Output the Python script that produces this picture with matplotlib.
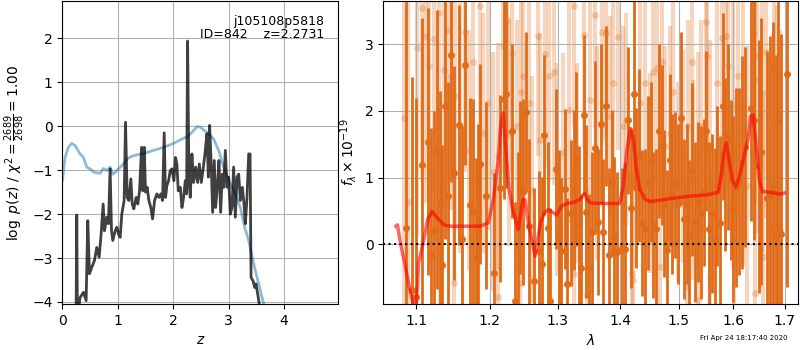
import numpy as np
import matplotlib
matplotlib.use("Agg")
import matplotlib.pyplot as plt
from matplotlib.ticker import FixedLocator, FixedFormatter, NullLocator

# ---------------- left panel data: log p(z) and prior ----------------
pz_z = [0.247, 0.259, 0.271, 0.319, 0.380, 0.428, 0.458, 0.488, 0.530, 0.578, 0.620, 0.663, 0.699,
        0.735, 0.759, 0.801, 0.831, 0.861, 0.886, 0.910, 0.952, 0.982, 1.012, 1.042, 1.072, 1.114,
        1.139, 1.169, 1.199, 1.235, 1.259, 1.289, 1.331, 1.361, 1.392, 1.428, 1.452, 1.476, 1.500,
        1.530, 1.560, 1.596, 1.627, 1.663, 1.705, 1.741, 1.777, 1.807, 1.837, 1.861, 1.886, 1.916,
        1.946, 1.976, 2.012, 2.042, 2.066, 2.090, 2.127, 2.157, 2.187, 2.217, 2.241, 2.259, 2.283,
        2.307, 2.337, 2.367, 2.404, 2.440, 2.470, 2.506, 2.536, 2.572, 2.608, 2.633, 2.657, 2.687,
        2.711, 2.741, 2.765, 2.795, 2.825, 2.855, 2.886, 2.910, 2.940, 2.970, 3.000, 3.030, 3.060,
        3.090, 3.120, 3.151, 3.181, 3.211, 3.247, 3.277, 3.301, 3.331, 3.361, 3.386, 3.404, 3.440,
        3.470, 3.494, 3.524, 3.548, 3.584]
pz_logp = [-4.35, -2.02, -4.35, -3.90, -3.78, -3.97, -2.15, -3.36, -3.21, -3.06, -2.76, -2.98, -2.45,
           -1.77, -2.38, -2.07, -2.22, -0.97, -2.38, -2.60, -2.38, -2.30, -2.45, -2.53, -2.00, -1.69,
           0.09, -1.62, -1.69, -1.20, -1.77, -1.88, -1.62, -1.77, -1.47, -0.48, -1.47, -0.48, -1.50,
           -1.39, -1.69, -1.85, -2.11, -1.69, -1.54, -1.62, -1.54, -1.69, -0.15, -1.62, -1.35, -1.24,
           -1.01, -0.97, -1.24, -0.71, -0.86, -1.47, -1.39, -1.85, -1.62, -1.24, -1.54, 1.94, -1.24,
           -1.62, -0.63, -1.28, -0.93, -1.28, -0.86, -1.28, -1.01, -0.63, -0.17, -1.16, 0.02, -0.93,
           -1.96, -0.78, -1.85, -1.39, -0.78, -1.96, -1.09, -1.39, -0.55, -1.39, -1.16, -2.00, -1.85,
           -0.93, -2.07, -1.16, -1.09, -1.69, -1.39, -1.77, -2.22, -1.62, -0.63, -0.63, -3.44, -3.52,
           -3.67, -3.59, -3.82, -4.01, -4.43]

prior_z = [0.0, 0.048, 0.108, 0.169, 0.229, 0.319, 0.380, 0.440, 0.500, 0.572, 0.681, 0.741, 0.801,
           0.861, 0.904, 0.952, 1.012, 1.102, 1.193, 1.283, 1.464, 1.645, 1.825, 2.006, 2.127, 2.247,
           2.337, 2.428, 2.488, 2.608, 2.729, 2.819, 2.910, 3.030, 3.120, 3.211, 3.289, 3.361, 3.452,
           3.542, 3.633, 3.690]
prior_logp = [-1.24, -0.71, -0.48, -0.39, -0.44, -0.63, -0.71, -0.93, -0.97, -1.05, -1.07, -0.96, -1.01,
              -0.93, -1.09, -1.05, -0.97, -0.86, -0.72, -0.67, -0.62, -0.55, -0.48, -0.39, -0.31, -0.24,
              -0.14, -0.01, -0.02, -0.14, -0.29, -0.55, -0.93, -1.31, -1.54, -1.85, -2.30, -2.60, -3.14,
              -3.59, -4.05, -4.43]

# ---------------- right panel data: spectrum ----------------
dark_wave = [1.087, 1.094, 1.100, 1.108, 1.115, 1.119, 1.123, 1.128, 1.131, 1.134, 1.138, 1.142, 1.146,
             1.150, 1.157, 1.161, 1.166, 1.172, 1.176, 1.180, 1.184, 1.186, 1.195, 1.206, 1.215, 1.220,
             1.223, 1.232, 1.237, 1.241, 1.244, 1.248, 1.252, 1.257, 1.264, 1.272, 1.277, 1.280, 1.285,
             1.289, 1.298, 1.302, 1.306, 1.311, 1.315, 1.321, 1.325, 1.329, 1.333, 1.337, 1.341, 1.345,
             1.349, 1.354, 1.359, 1.363, 1.368, 1.372, 1.377, 1.381, 1.386, 1.389, 1.394, 1.403, 1.408,
             1.413, 1.418, 1.423, 1.427, 1.432, 1.437, 1.442, 1.447, 1.452, 1.456, 1.461, 1.466, 1.470,
             1.475, 1.480, 1.484, 1.489, 1.494, 1.499, 1.504, 1.509, 1.514, 1.519, 1.524, 1.530, 1.535,
             1.540, 1.545, 1.549, 1.554, 1.560, 1.565, 1.570, 1.575, 1.580, 1.585, 1.590, 1.595, 1.600,
             1.605, 1.611, 1.616, 1.622, 1.633, 1.639, 1.649, 1.654, 1.665, 1.671, 1.676, 1.682, 1.687,
             1.693, 1.705]
dark_flux = [0.25, -0.69, -0.80, 1.19, 1.54, -0.15, 0.20, 1.42, 0.60, -0.31, 2.08, 0.73, 2.84,
             1.07, 1.79, 0.08, 2.69, 0.59, 0.48, -0.21, 0.20, 1.20, 0.73, -0.43, 0.84, 2.18,
             2.25, 1.70, -0.86, -0.01, 0.85, 0.78, 1.99, 0.28, -0.55, -0.10, -0.29, 1.64, 0.24,
             -0.85, 1.13, 0.12, -0.10, 0.83, -0.60, 0.47, 0.82, 1.28, 0.27, -0.35, 1.94, 0.49,
             -0.35, 0.18, 1.45, 0.33, 1.80, 0.18, 2.08, -0.16, 0.92, 0.11, -0.12, -0.06, -0.07,
             1.86, 0.54, 2.25, 0.85, 1.33, 0.32, 0.23, 0.92, 1.23, 0.29, 0.23, 1.70, 1.49,
             0.61, -0.08, 1.26, 0.76, 0.89, 0.60, 1.89, 0.38, 0.60, 0.16, 1.12, 0.33, 0.64,
             0.47, 0.78, 1.70, 0.23, 0.46, 0.05, 0.88, 0.32, 2.07, 1.20, 1.61, 0.97, 0.53,
             0.85, 0.94, 1.23, 1.46, 2.05, 1.86, 1.17, 1.39, 0.70, 0.72, 0.84, 0.14, 1.85,
             0.15, 2.55]
dark_err = [3.5, 3.2, 3.0, 2.2, 2.0, 1.9, 1.8, 2.1, 1.7, 1.8, 2.0, 1.7, 1.9,
            1.6, 1.8, 1.7, 1.5, 1.6, 1.7, 1.5, 1.6, 1.5, 1.4, 1.5, 1.4, 1.5,
            1.4, 1.3, 1.5, 1.4, 1.3, 1.4, 1.2, 1.3, 1.4, 1.2, 1.3, 1.2, 1.3,
            1.4, 1.2, 1.3, 1.1, 1.2, 1.3, 1.1, 1.2, 1.3, 1.2, 1.1, 1.2, 1.3,
            1.1, 1.2, 1.3, 1.1, 1.2, 1.1, 1.2, 1.3, 1.1, 1.2, 1.2, 1.2, 1.3,
            1.1, 1.2, 1.4, 1.2, 1.3, 1.1, 1.2, 1.3, 1.2, 1.1, 1.2, 1.3, 1.2,
            1.1, 1.2, 1.3, 1.2, 1.1, 1.2, 1.3, 1.2, 1.2, 1.1, 1.3, 1.2, 1.2,
            1.3, 1.1, 1.2, 1.3, 1.2, 1.4, 1.2, 1.3, 1.4, 1.3, 1.4, 1.2, 1.4,
            1.5, 1.4, 1.6, 1.5, 1.7, 1.8, 1.9, 2.0, 2.2, 2.4, 2.5, 2.7, 2.8,
            3.0, 3.2]

light_wave = [1.084, 1.090, 1.101, 1.107, 1.113, 1.117, 1.124, 1.130, 1.132, 1.137, 1.141, 1.146, 1.150,
              1.152, 1.158, 1.165, 1.171, 1.177, 1.186, 1.191, 1.198, 1.205, 1.211, 1.212, 1.219, 1.224,
              1.227, 1.232, 1.239, 1.244, 1.245, 1.248, 1.257, 1.262, 1.271, 1.274, 1.281, 1.287, 1.294,
              1.299, 1.309, 1.317, 1.325, 1.325, 1.330, 1.341, 1.346, 1.351, 1.359, 1.362, 1.370, 1.377,
              1.383, 1.388, 1.396, 1.405, 1.410, 1.419, 1.422, 1.433, 1.442, 1.450, 1.456, 1.462, 1.468,
              1.470, 1.476, 1.485, 1.490, 1.499, 1.508, 1.514, 1.517, 1.523, 1.526, 1.535, 1.535, 1.541,
              1.549, 1.552, 1.557, 1.557, 1.569, 1.578, 1.587, 1.590, 1.599, 1.602, 1.609, 1.619, 1.627,
              1.639, 1.642, 1.642, 1.645, 1.655, 1.658, 1.663, 1.670, 1.678, 1.684, 1.691]
light_flux = [1.89, 0.64, 2.94, 3.54, 3.12, 2.67, 3.08, 3.47, -0.14, 2.62, 3.22, 2.52, -0.59,
              2.22, 1.77, 3.18, 1.42, 2.74, 3.57, 1.67, 2.12, 1.09, 1.32, -0.79, 2.97, 3.37,
              1.67, 2.87, 1.77, -0.59, 2.29, 2.53, 2.12, 0.82, 3.13, 1.57, 2.86, 2.53, 2.59,
              1.12, 1.37, 2.02, 3.58, -0.44, 1.22, 3.14, -0.76, 2.17, 3.44, 1.37, 3.19, 3.17,
              1.92, 2.42, 3.11, 1.77, 1.87, -0.44, -0.54, 2.12, 2.42, 1.07, 2.59, 2.64, -0.34,
              2.73, 1.47, 1.67, 2.29, 0.94, 1.32, -0.64, 1.77, 2.74, 0.97, 1.29, -0.84, 1.77,
              3.34, 2.82, 1.47, -0.49, 2.42, 3.09, 3.12, 2.67, 2.07, -0.29, 2.52, 1.67, 0.87,
              3.17, 2.82, -0.74, 2.47, 2.27, -0.19, 2.89, 0.22, 2.67, 0.77, 0.22]
light_err = [3.2, 3.0, 2.8, 2.6, 2.5, 2.4, 2.3, 2.4, 2.2, 2.1, 2.3, 2.0, 2.1,
             2.0, 1.9, 2.1, 1.8, 2.0, 1.9, 1.8, 1.9, 1.8, 1.7, 1.8, 1.9, 1.8,
             1.7, 1.8, 1.6, 1.7, 1.8, 1.7, 1.6, 1.7, 1.8, 1.6, 1.7, 1.6, 1.7,
             1.6, 1.5, 1.7, 1.8, 1.6, 1.5, 1.7, 1.6, 1.5, 1.7, 1.6, 1.7, 1.6,
             1.5, 1.6, 1.7, 1.5, 1.6, 1.5, 1.6, 1.7, 1.6, 1.5, 1.6, 1.7, 1.5,
             1.6, 1.5, 1.6, 1.7, 1.5, 1.6, 1.5, 1.6, 1.7, 1.5, 1.6, 1.6, 1.6,
             1.8, 1.7, 1.6, 1.6, 1.7, 1.8, 1.9, 1.8, 1.9, 1.8, 2.0, 2.0, 2.1,
             2.2, 2.2, 2.2, 2.3, 2.4, 2.4, 2.5, 2.6, 2.7, 2.8, 3.0]

model_wave = [1.074, 1.076, 1.080, 1.086, 1.092, 1.097, 1.099, 1.102, 1.103, 1.110, 1.115, 1.121, 1.128,
              1.137, 1.146, 1.164, 1.186, 1.198, 1.205, 1.212, 1.215, 1.219, 1.222, 1.227, 1.232, 1.237,
              1.241, 1.244, 1.248, 1.251, 1.255, 1.259, 1.263, 1.266, 1.269, 1.274, 1.280, 1.286, 1.294,
              1.299, 1.306, 1.314, 1.325, 1.335, 1.342, 1.346, 1.351, 1.372, 1.399, 1.405, 1.411, 1.417,
              1.422, 1.427, 1.433, 1.442, 1.450, 1.467, 1.490, 1.520, 1.551, 1.572, 1.578, 1.582, 1.587,
              1.592, 1.598, 1.605, 1.612, 1.622, 1.628, 1.633, 1.638, 1.643, 1.650, 1.656, 1.671, 1.691,
              1.700]
model_flux = [0.27, 0.29, 0.00, -0.33, -0.69, -0.95, -1.00, -0.60, -0.29, 0.07, 0.37, 0.49, 0.39,
              0.29, 0.27, 0.27, 0.27, 0.32, 0.67, 1.27, 1.72, 1.97, 1.57, 0.87, 0.57, 0.37,
              0.22, 0.42, 0.67, 0.67, 0.37, 0.17, -0.03, -0.18, 0.02, 0.32, 0.47, 0.52, 0.47,
              0.44, 0.57, 0.61, 0.63, 0.67, 0.76, 0.68, 0.62, 0.61, 0.61, 0.87, 1.42, 1.74,
              1.57, 1.12, 0.82, 0.67, 0.64, 0.66, 0.69, 0.72, 0.74, 0.78, 1.07, 1.37, 1.52,
              1.27, 0.97, 0.86, 1.02, 1.37, 1.57, 1.92, 1.94, 1.57, 0.97, 0.79, 0.78, 0.75,
              0.77]

wave_ticks = [1.1, 1.2, 1.3, 1.4, 1.5, 1.6, 1.7]
wave_ticklabels = ['1.1', '1.2', '1.3', '1.4', '1.5', '1.6', '1.7']

# ---------------- figure ----------------
fig = plt.figure(figsize=(8, 3.5), dpi=100)
ax1 = fig.add_axes([0.078, 0.131, 0.345, 0.866])
ax2 = fig.add_axes([0.479, 0.131, 0.519, 0.866])

ax1.plot(prior_z, prior_logp, color='#1f77b4', alpha=0.5, lw=2)
ax1.plot(pz_z, pz_logp, color='k', alpha=0.75, lw=2)
ax1.set_xlim(0, 4.98)
ax1.set_ylim(-4.05, 2.85)
ax1.set_xticks([0, 1, 2, 3, 4])
ax1.set_yticks([-4, -3, -2, -1, 0, 1, 2])
ax1.grid(True)
ax1.set_axisbelow(True)
ax1.set_xlabel(r'$z$')
ax1.set_ylabel(r'$\log\ p(z)$' + ' / ' + r'$\chi^2=\frac{2689}{2698}=1.00$')
ax1.text(0.95, 0.955, 'j105108p5818\nID=842    z=2.2731', ha='right', va='top',
         transform=ax1.transAxes, fontsize=9, linespacing=1.05)

orange = '#e06b18'
ax2.errorbar(light_wave, light_flux, yerr=light_err, fmt='o', color=orange, alpha=0.28,
             ms=5, elinewidth=3, capsize=0, mec='none', zorder=1)
ax2.errorbar(dark_wave, dark_flux, yerr=dark_err, fmt='o', color=orange, alpha=1.0,
             ms=5, elinewidth=2, capsize=0, mec='none', zorder=2)
ax2.plot(model_wave, model_flux, color='red', alpha=0.6, lw=2.5, zorder=3)
ax2.axhline(0, color='k', ls=':', lw=1.5, zorder=4)
ax2.set_xscale('log')
ax2.xaxis.set_major_locator(FixedLocator(wave_ticks))
ax2.xaxis.set_major_formatter(FixedFormatter(wave_ticklabels))
ax2.xaxis.set_minor_locator(NullLocator())
ax2.set_xlim(1.058, 1.728)
ax2.set_ylim(-0.9, 3.65)
ax2.set_yticks([0, 1, 2, 3])
ax2.grid(True, zorder=5)
ax2.set_xlabel(r'$\lambda$')
ax2.set_ylabel(r'$f_\lambda\times10^{-19}$')

fig.text(0.985, 0.025, 'Fri Apr 24 18:17:40 2020', ha='right', va='bottom', fontsize=5)

fig.savefig('out.png', dpi=100)
